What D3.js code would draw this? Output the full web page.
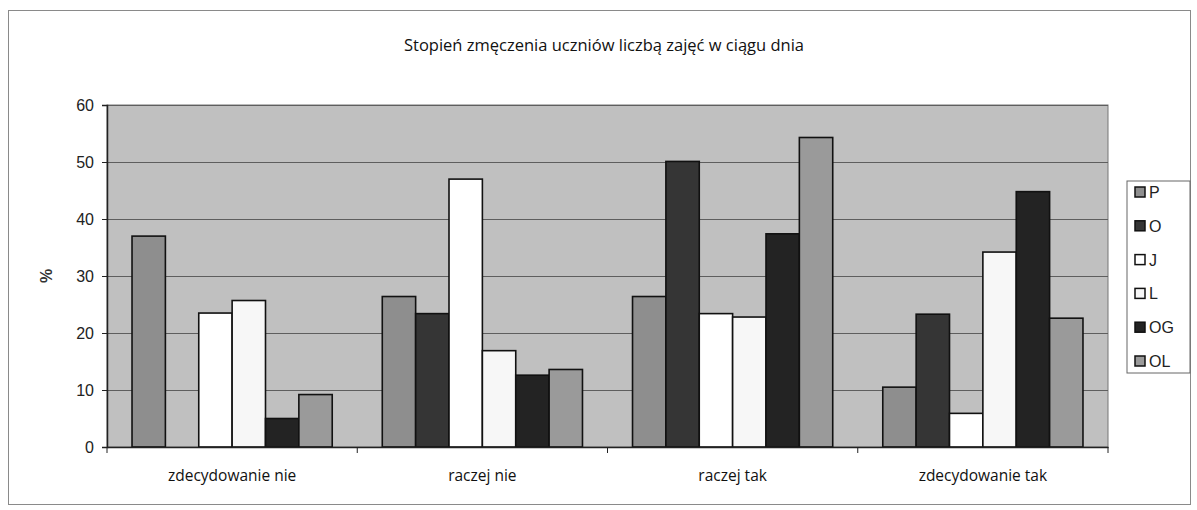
<!DOCTYPE html>
<html>
<head>
<meta charset="utf-8">
<script src="https://cdn.jsdelivr.net/npm/d3@7"></script>
<style>
  body { margin: 0; background: #fff; }
  svg { display: block; }
</style>
</head>
<body>
<div id="chart"></div>
<script>
// Data
var categories = ["zdecydowanie nie", "raczej nie", "raczej tak", "zdecydowanie tak"];
var seriesNames = ["P", "O", "J", "L", "OG", "OL"];
var valuesP = [37, 26.4, 26.4, 10.5];
var valuesO = [0, 23.4, 50.1, 23.3];
var valuesJ = [23.5, 47, 23.4, 5.9];
var valuesL = [25.7, 16.9, 22.8, 34.2];
var valuesOG = [5, 12.6, 37.4, 44.8];
var valuesOL = [9.2, 13.6, 54.3, 22.6];
var yTicks = [0, 10, 20, 30, 40, 50, 60];

var seriesValues = [valuesP, valuesO, valuesJ, valuesL, valuesOG, valuesOL];
var colors = {"P": "#8e8e8e", "O": "#353535", "J": "#ffffff", "L": "#f7f7f7", "OG": "#232323", "OL": "#9a9a9a"};

var width = 1197, height = 510;
var plot = {left: 107, right: 1108, top: 105, bottom: 447};

var svg = d3.select("#chart")
    .append("svg")
    .attr("width", width)
    .attr("height", height);

// outer frame
svg.append("rect")
    .attr("x", 8.5)
    .attr("y", 10.5)
    .attr("width", 1182)
    .attr("height", 494)
    .attr("fill", "#fff")
    .style("stroke", "#8a8a8a")
    .style("stroke-width", 1);

svg.append("text")
    .attr("x", 604)
    .attr("y", 51)
    .attr("text-anchor", "middle")
    .style("font-family", "Open Sans, sans-serif")
    .style("font-size", "16.5px")
    .style("fill", "#111")
    .text("Stopień zmęczenia uczniów liczbą zajęć w ciągu dnia");

var x0 = d3.scaleBand()
    .domain(categories)
    .range([plot.left, plot.right]);

var x1 = d3.scaleBand()
    .domain(seriesNames)
    .range([0, x0.bandwidth()])
    .paddingOuter(0.75);

var y = d3.scaleLinear()
    .domain([0, 60])
    .range([plot.bottom, plot.top]);

// plot background
svg.append("rect")
    .attr("x", plot.left)
    .attr("y", plot.top)
    .attr("width", plot.right - plot.left)
    .attr("height", plot.bottom - plot.top)
    .attr("fill", "#c0c0c0")
    .style("stroke", "#777")
    .style("stroke-width", 1);

// gridlines
svg.selectAll("line.grid")
    .data(yTicks.slice(1))
    .enter()
    .append("line")
    .attr("class", "grid")
    .attr("x1", plot.left)
    .attr("x2", plot.right)
    .attr("y1", function(d) { return Math.round(y(d)) + 0.5; })
    .attr("y2", function(d) { return Math.round(y(d)) + 0.5; })
    .attr("stroke", "#5e5e5e")
    .attr("stroke-width", 1.2);

// bars
var rows = [];
categories.forEach(function(c, i) {
    seriesNames.forEach(function(s, j) {
        rows.push({cat: c, s: s, v: seriesValues[j][i]});
    });
});

svg.selectAll("rect.bar")
    .data(rows.filter(function(d) { return d.v > 0; }))
    .enter()
    .append("rect")
    .attr("class", "bar")
    .attr("x", function(d) { return x0(d.cat) + x1(d.s); })
    .attr("y", function(d) { return y(d.v); })
    .attr("width", x1.bandwidth())
    .attr("height", function(d) { return y(0) - y(d.v); })
    .attr("fill", function(d) { return colors[d.s]; })
    .style("stroke", "#111")
    .style("stroke-width", 1.6);

// y axis
var yAxis = svg.append("g")
    .attr("transform", "translate(" + plot.left + ",0)")
    .call(d3.axisLeft(y).tickValues(yTicks).tickSize(5).tickPadding(8));
yAxis.select(".domain").attr("stroke", "#222").attr("stroke-width", 1.5);
yAxis.selectAll(".tick line").attr("stroke", "#222");
yAxis.selectAll("text")
    .style("font-family", "Liberation Sans, Arial, sans-serif")
    .style("font-size", "16px")
    .style("fill", "#222");

// x axis
var xAxis = svg.append("g")
    .attr("transform", "translate(0," + plot.bottom + ")")
    .call(d3.axisBottom(x0).tickSize(0).tickPadding(23));
xAxis.select(".domain").attr("stroke", "#222").attr("stroke-width", 1.5);
xAxis.selectAll("text")
    .style("font-family", "Open Sans, sans-serif")
    .style("font-size", "15.5px")
    .style("fill", "#111");
svg.selectAll("line.xtick")
    .data(categories.concat(["end"]))
    .enter()
    .append("line")
    .attr("class", "xtick")
    .attr("x1", function(d, i) { return i < categories.length ? x0(d) : plot.right; })
    .attr("x2", function(d, i) { return i < categories.length ? x0(d) : plot.right; })
    .attr("y1", plot.bottom)
    .attr("y2", plot.bottom + 6)
    .attr("stroke", "#222");

// y label
svg.append("text")
    .attr("transform", "translate(52,276) rotate(-90)")
    .attr("text-anchor", "middle")
    .style("font-family", "Liberation Sans, Arial, sans-serif")
    .style("font-size", "16px")
    .style("font-weight", "bold")
    .style("fill", "#333")
    .text("%");

// legend
var legend = svg.append("g").attr("transform", "translate(1127,181)");
legend.append("rect")
    .attr("width", 63)
    .attr("height", 192)
    .attr("fill", "#fff")
    .style("stroke", "#666")
    .style("stroke-width", 1);
var items = legend.selectAll("g.item")
    .data(seriesNames)
    .enter()
    .append("g")
    .attr("class", "item")
    .attr("transform", function(d, i) { return "translate(8," + (11 + i * 33.8) + ")"; });
items.append("rect")
    .attr("x", 0)
    .attr("y", -5)
    .attr("width", 10)
    .attr("height", 10)
    .attr("fill", function(d) { return colors[d]; })
    .style("stroke", "#111")
    .style("stroke-width", 1.5);
items.append("text")
    .attr("x", 14)
    .attr("y", 6)
    .style("font-family", "Liberation Sans, Arial, sans-serif")
    .style("font-size", "16px")
    .style("fill", "#222")
    .text(function(d) { return d; });
</script>
</body>
</html>
